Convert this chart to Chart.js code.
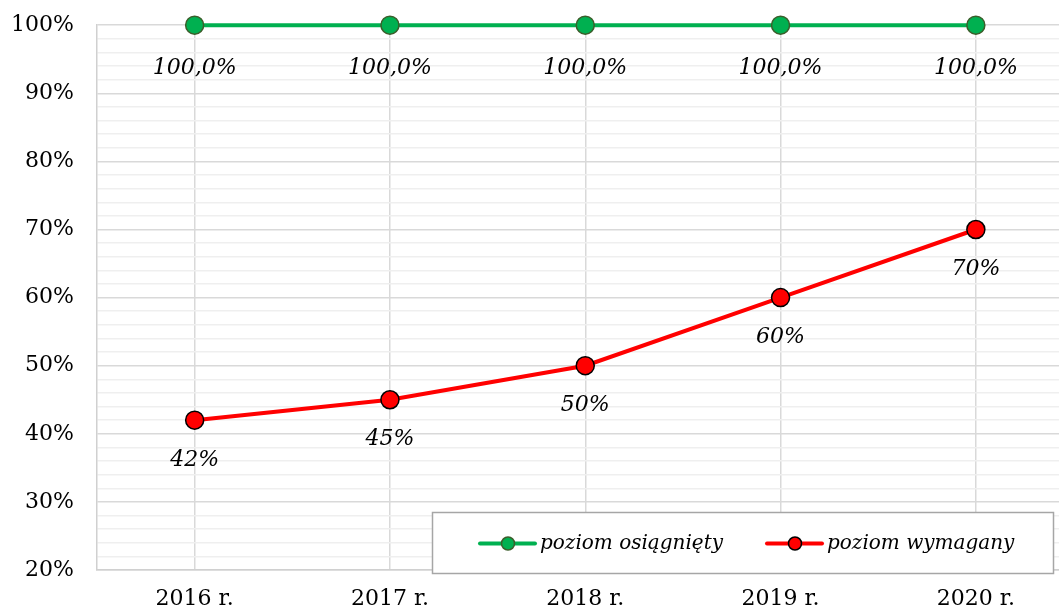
<!DOCTYPE html>
<html>
<head>
<meta charset="utf-8">
<script src="https://cdn.jsdelivr.net/npm/chart.js@4.4.0/dist/chart.umd.min.js"></script>
<style>
  html, body { margin: 0; padding: 0; background: #fff; overflow: hidden; }
  #wrap { width: 1059px; height: 610px; overflow: hidden; }
  #chart { display: block; margin-top: -11px; }
</style>
</head>
<body>
<div id="wrap"><canvas id="chart" width="1084" height="621"></canvas></div>
<script>
const years = ['2016 r.', '2017 r.', '2018 r.', '2019 r.', '2020 r.'];
const achieved = [100, 100, 100, 100, 100];
const required = [42, 45, 50, 60, 70];
const yTicks = [20, 30, 40, 50, 60, 70, 80, 90, 100];

const fontFamily = '"DejaVu Serif", "Liberation Serif", serif';

// labels under each point
let pointLabels = {
    id: 'pointLabels',
    afterDatasetsDraw(chart) {
        let ctx = chart.ctx;
        ctx.save();
        ctx.font = 'italic 22px ' + fontFamily;
        ctx.fillStyle = '#000';
        ctx.textAlign = 'center';
        ctx.textBaseline = 'middle';
        chart.data.datasets.forEach((ds, i) => {
            let meta = chart.getDatasetMeta(i);
            meta.data.forEach((pt, j) => {
                let v = ds.data[j];
                let txt = i === 0 ? v.toFixed(1).replace('.', ',') + '%' : v + '%';
                ctx.fillText(txt, pt.x, pt.y + ds.labelOffset);
            });
        });
        ctx.restore();
    }
}

// legend box drawn inside the plot, bottom right
let boxLegend = {
    id: 'boxLegend',
    afterDraw(chart) {
        let ctx = chart.ctx;
        let x0 = 432, y0 = chart.chartArea.bottom - 58, w = 621, h = 61;
        ctx.save();
        ctx.fillStyle = '#fff';
        ctx.fillRect(x0, y0, w, h);
        ctx.strokeStyle = '#a6a6a6';
        ctx.lineWidth = 1.5;
        ctx.strokeRect(x0 + 0.5, y0 + 0.5, w, h);
        let cy = y0 + h / 2 + 1;
        let starts = [480, 767];
        ctx.font = 'italic 20px ' + fontFamily;
        ctx.textBaseline = 'middle';
        chart.data.datasets.forEach((ds, i) => {
            let sx = starts[i];
            ctx.strokeStyle = ds.borderColor;
            ctx.lineWidth = 4;
            ctx.lineCap = 'round';
            ctx.beginPath();
            ctx.moveTo(sx, cy);
            ctx.lineTo(sx + 55, cy);
            ctx.stroke();
            ctx.beginPath();
            ctx.arc(sx + 28, cy, 6.5, 0, Math.PI * 2);
            ctx.fillStyle = ds.pointBackgroundColor;
            ctx.fill();
            ctx.lineWidth = 1.5;
            ctx.strokeStyle = ds.pointBorderColor;
            ctx.stroke();
            ctx.fillStyle = '#000';
            ctx.fillText(ds.label, sx + 60, cy);
        });
        ctx.restore();
    }
}

let chart = new Chart(document.querySelector('#chart').getContext('2d'), {
    type: 'line',
    data: {
        labels: years,
        datasets: [
            {
                label: 'poziom osiągnięty',
                data: achieved,
                borderColor: '#00b050',
                borderWidth: 4,
                clip: false,
                pointRadius: 9,
                pointBackgroundColor: '#00b050',
                pointBorderColor: '#3b5e2b',
                pointBorderWidth: 1.5,
                labelOffset: 43
            },
            {
                label: 'poziom wymagany',
                data: required,
                borderColor: '#ff0000',
                borderWidth: 4,
                clip: false,
                pointRadius: 9,
                pointBackgroundColor: '#ff0000',
                pointBorderColor: '#000000',
                pointBorderWidth: 1.5,
                labelOffset: 40
            }
        ]
    },
    options: {
        responsive: false,
        animation: false,
        layout: { padding: { top: 15, left: 0, right: 2, bottom: 0 } },
        plugins: { legend: { display: false }, tooltip: { enabled: false } },
        scales: {
            x: {
                offset: true,
                grid: { offset: false, color: '#d9d9d9', lineWidth: 1.5, drawTicks: false },
                border: { color: '#d0d0d0', width: 1.5 },
                ticks: { color: '#000', padding: 16, font: { family: fontFamily, size: 22 } },
                afterFit(s) { s.height = 40; }
            },
            y: {
                min: 20,
                max: 100,
                afterBuildTicks(s) {
                    let t = [];
                    for (let v = 20; v <= 100; v += 2) t.push({ value: v });
                    s.ticks = t;
                },
                grid: {
                    drawTicks: false,
                    lineWidth: 1.5,
                    color: (c) => (c.tick && yTicks.includes(c.tick.value)) ? '#d9d9d9' : '#efefef'
                },
                border: { color: '#d0d0d0', width: 1.5 },
                ticks: {
                    color: '#000',
                    padding: 23,
                    autoSkip: false,
                    font: { family: fontFamily, size: 22 },
                    callback: (v) => yTicks.includes(v) ? v + '%' : ''
                },
                afterFit(s) { s.width = 97; }
            }
        }
    },
    plugins: [pointLabels, boxLegend]
});
</script>
</body>
</html>
